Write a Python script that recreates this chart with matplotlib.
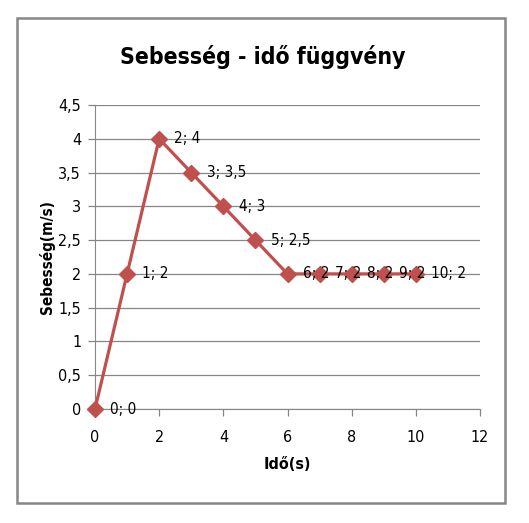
import matplotlib
matplotlib.use("Agg")
import matplotlib.pyplot as plt
from matplotlib.patches import Rectangle

x_vals = [0, 1, 2, 3, 4, 5, 6, 7, 8, 9, 10]
y_vals = [0, 2, 4, 3.5, 3, 2.5, 2, 2, 2, 2, 2]
x_ticks = [0, 2, 4, 6, 8, 10, 12]
y_ticks = [0, 0.5, 1, 1.5, 2, 2.5, 3, 3.5, 4, 4.5]
title = "Sebesség - idő függvény"
xlabel = "Idő(s)"
ylabel = "Sebesség(m/s)"

def fmt(v):
    return ("%g" % v).replace(".", ",")

plt.rcParams['font.family'] = ["DejaVu Sans"]
plt.rcParams['font.stretch'] = "condensed"

fig = plt.figure(figsize=(5.29, 5.23), dpi=100)
fig.patches.append(Rectangle((17/529, 1-503/523), (505-17)/529, (503-18)/523,
                             transform=fig.transFigure, fill=False,
                             edgecolor="#868686", linewidth=1.8, zorder=0))
ax = fig.add_axes([95/529, 1-409/523, (480-95)/529, (409-105)/523])

ax.plot(x_vals, y_vals, color="#C0504D", linewidth=2.3, marker="D",
        markersize=8, markerfacecolor="#C0504D", markeredgecolor="#C0504D",
        zorder=3, clip_on=False)
for xv, yv in zip(x_vals, y_vals):
    ax.annotate(f"{fmt(xv)}; {fmt(yv)}", (xv, yv), xytext=(11, 0),
                textcoords="offset points", va="center", ha="left",
                fontsize=11, color="black", zorder=4)

ax.set_xlim(0, 12)
ax.set_ylim(0, 4.5)
ax.set_xticks(x_ticks)
ax.set_xticklabels([fmt(t) for t in x_ticks], fontsize=11.5)
ax.set_yticks(y_ticks)
ax.set_yticklabels([fmt(t) for t in y_ticks], fontsize=11.5)
ax.yaxis.grid(True, color="#868686", linewidth=0.9)
ax.set_axisbelow(True)
for s in ["top", "right"]:
    ax.spines[s].set_visible(False)
ax.spines["left"].set_color("#868686")
ax.spines["bottom"].set_color("#868686")
ax.tick_params(axis="both", colors="#868686", labelcolor="black", length=5, width=0.9)
ax.tick_params(axis="x", pad=10)
ax.tick_params(axis="y", pad=5)

ax.set_xlabel(xlabel, fontsize=11.5, fontweight="bold", labelpad=9)
ax.set_ylabel(ylabel, fontsize=11, fontweight="bold", labelpad=2)
fig.text(263/529, 1 - 57/523, title, ha="center", va="center",
         fontsize=16.5, fontweight="bold")

fig.savefig("out.png", dpi=100)
